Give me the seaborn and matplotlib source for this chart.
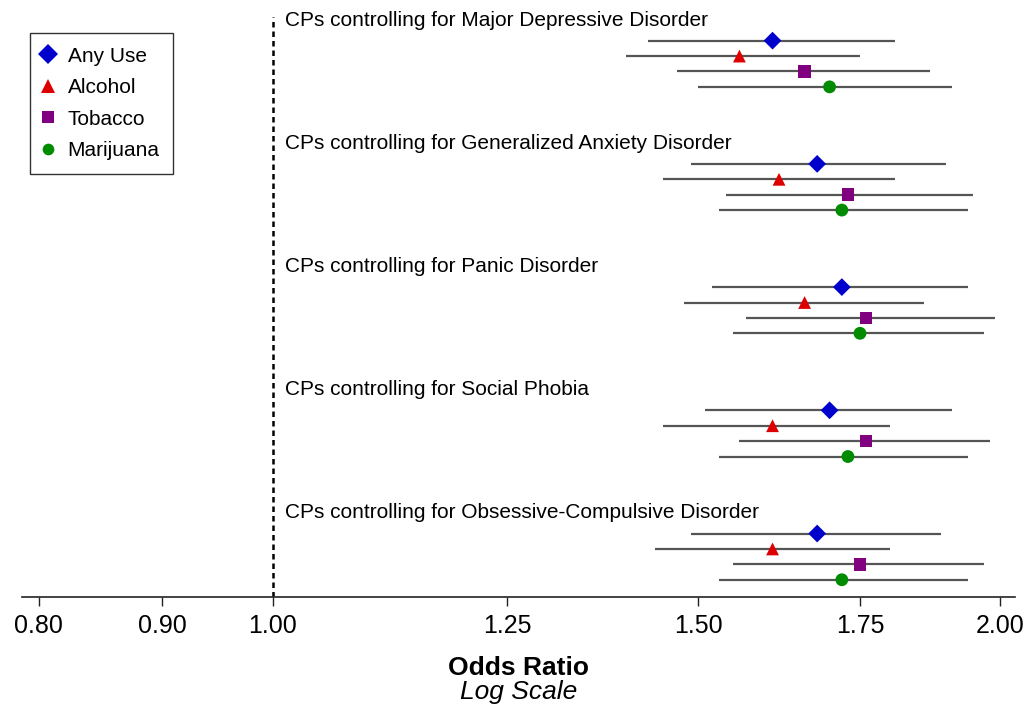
import numpy as np
import pandas as pd
import matplotlib
matplotlib.use("Agg")
import matplotlib.pyplot as plt
from matplotlib.lines import Line2D
from matplotlib.ticker import FixedLocator, FixedFormatter, NullLocator
import seaborn as sns

# ---------------- data ----------------
groups = ["Major Depressive Disorder", "Generalized Anxiety Disorder",
          "Panic Disorder", "Social Phobia", "Obsessive-Compulsive Disorder"]
substances = ["Any Use", "Alcohol", "Tobacco", "Marijuana"]

or_any = [1.61, 1.68, 1.72, 1.70, 1.68]
lo_any = [1.43, 1.49, 1.52, 1.51, 1.49]
hi_any = [1.81, 1.90, 1.94, 1.91, 1.89]

or_alc = [1.56, 1.62, 1.66, 1.61, 1.61]
lo_alc = [1.40, 1.45, 1.48, 1.45, 1.44]
hi_alc = [1.75, 1.81, 1.86, 1.80, 1.80]

or_tob = [1.66, 1.73, 1.76, 1.76, 1.75]
lo_tob = [1.47, 1.54, 1.57, 1.56, 1.55]
hi_tob = [1.87, 1.95, 1.99, 1.98, 1.97]

or_mar = [1.70, 1.72, 1.75, 1.73, 1.72]
lo_mar = [1.50, 1.53, 1.55, 1.53, 1.53]
hi_mar = [1.91, 1.94, 1.97, 1.94, 1.94]

tick_values = [0.80, 0.90, 1.00, 1.25, 1.50, 1.75, 2.00]
tick_labels = ["0.80", "0.90", "1.00", "1.25", "1.50", "1.75", "2.00"]

# ---------------- styling ----------------
colors = {"Any Use": "#0000CD", "Alcohol": "#DD0000",
          "Tobacco": "#800080", "Marijuana": "#008B00"}
markers = {"Any Use": "D", "Alcohol": "^", "Tobacco": "s", "Marijuana": "o"}
sizes = {"Any Use": 82, "Alcohol": 85, "Tobacco": 80, "Marijuana": 85}
legend_msize = {"Any Use": 10.5, "Alcohol": 10, "Tobacco": 8.8, "Marijuana": 8.4}

sns.set_style("white")
plt.rcParams["font.family"] = ["Liberation Sans", "DejaVu Sans"]

# build long table
est = [or_any, or_alc, or_tob, or_mar]
lows = [lo_any, lo_alc, lo_tob, lo_mar]
highs = [hi_any, hi_alc, hi_tob, hi_mar]
rows = []
for gi, g in enumerate(groups):
    for si, s in enumerate(substances):
        rows.append({"Group": g, "Substance": s, "OR": est[si][gi],
                     "Low": lows[si][gi], "High": highs[si][gi],
                     "ypos": gi * 8 + si})
df = pd.DataFrame(rows)

W, H = 1034, 713
fig = plt.figure(figsize=(W / 100, H / 100), dpi=100)
ax_left, ax_right, ax_top, ax_bottom = 22, 1015, 8, 597
ax = fig.add_axes([ax_left / W, 1 - ax_bottom / H,
                   (ax_right - ax_left) / W, (ax_bottom - ax_top) / H])

ax.set_xscale("log")

# confidence intervals
ax.hlines(df["ypos"], df["Low"], df["High"], color="#555555", lw=1.6, zorder=1)

# dashed reference line
ax.axvline(1.0, ymax=0.985, color="black", lw=1.8, ls=(0, (2.2, 1.6)), zorder=0)

sns.scatterplot(data=df, x="OR", y="ypos", hue="Substance", style="Substance",
                size="Substance", sizes=sizes, palette=colors, markers=markers,
                linewidth=0, legend=False, ax=ax, zorder=3)

for gi, g in enumerate(groups):
    ax.text(1.0115, gi * 8 - 1.34, "CPs controlling for " + g,
            va="center", ha="left", fontsize=15, color="black")

ax.set_xlim(0.7872, 2.0287)
ax.set_ylim(36.12, -2.12)

ax.xaxis.set_major_locator(FixedLocator(tick_values))
ax.xaxis.set_major_formatter(FixedFormatter(tick_labels))
ax.xaxis.set_minor_locator(NullLocator())
ax.tick_params(axis="x", which="major", direction="out", length=6.5, width=1,
               labelsize=18, pad=6, color="#222222", labelcolor="black",
               bottom=True)
ax.set_yticks([])
ax.set_xlabel("")
ax.set_ylabel("")
for side in ["left", "right", "top"]:
    ax.spines[side].set_visible(False)
ax.spines["bottom"].set_color("#222222")
ax.spines["bottom"].set_linewidth(1.2)

fig.text(0.5015, 1 - 668 / H, "Odds Ratio", ha="center", va="center",
         fontsize=19, fontweight="bold", color="black")
fig.text(0.5015, 1 - 692 / H, "Log Scale", ha="center", va="center",
         fontsize=19, fontstyle="italic", color="black")

handles = [Line2D([], [], ls="none", marker=markers[s], color=colors[s],
                  markersize=legend_msize[s], markeredgewidth=0)
           for s in substances]
leg = ax.legend(handles, substances, loc="upper left",
                bbox_to_anchor=((30 - ax_left) / (ax_right - ax_left),
                                (ax_bottom - 33) / (ax_bottom - ax_top)),
                borderaxespad=0, fontsize=15, frameon=True, fancybox=False,
                handlelength=0.45, handletextpad=0.7, labelspacing=0.6,
                borderpad=0.66)
leg.get_frame().set_edgecolor("black")
leg.get_frame().set_linewidth(1.0)
for t in leg.get_texts():
    t.set_color("black")

fig.savefig("out.png", dpi=100)
